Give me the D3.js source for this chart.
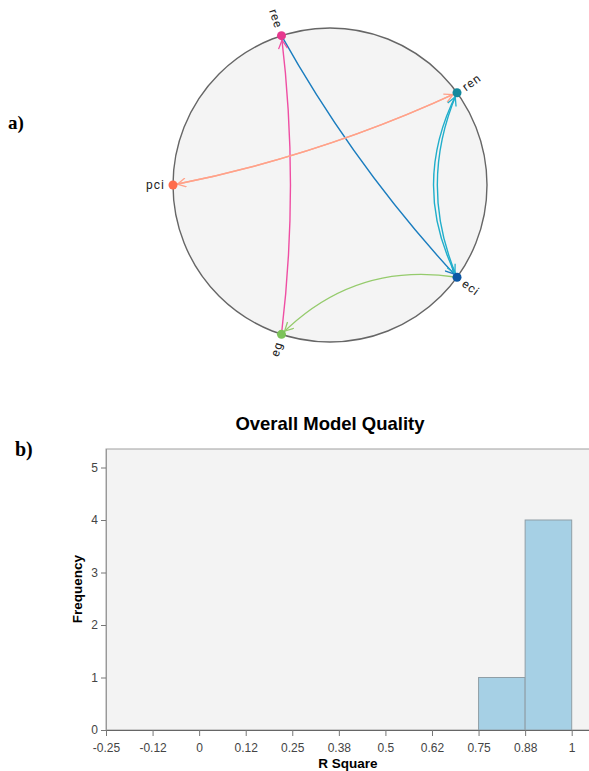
<!DOCTYPE html>
<html>
<head>
<meta charset="utf-8">
<script src="https://cdn.jsdelivr.net/npm/d3@7"></script>
<style>
  body { margin: 0; background: #fff; }
  svg { display: block; }
</style>
</head>
<body>
<div id="chart"></div>
<script>
// ---- panel a: directed links between indicators
const nodeNames = ["ree", "ren", "eci", "eg", "pci"]
const linkSource = ["ree", "eg", "eci", "pci", "ren", "ren", "eci"]
const linkTarget = ["eci", "ree", "eg", "ren", "pci", "eci", "ren"]
const linkHue = ["eci", "ree", "eg", "pci", "pci", "ren", "ren"]

// ---- panel b: histogram of R square
const binEdges = [-0.25, -0.125, 0, 0.125, 0.25, 0.375, 0.5, 0.625, 0.75, 0.875, 1]
const xTickLabels = ["-0.25", "-0.12", "0", "0.12", "0.25", "0.38", "0.5", "0.62", "0.75", "0.88", "1"]
const frequencies = [0, 0, 0, 0, 0, 0, 0, 0, 1, 4]
const yTicks = [0, 1, 2, 3, 4, 5]

const nodeColor = { ree: "#e6398f", ren: "#13899d", eci: "#0b57a4", eg: "#7cc35a", pci: "#ff6c4c" }
const linkColor = { ree: "#ef4ea3", ren: "#20aecb", eci: "#1a7dbf", eg: "#95cb6c", pci: "#ffa28a" }

const W = 589, H = 771
const svg = d3.select("#chart").append("svg").attr("width", W).attr("height", H)

// panel letters
svg.append("text").attr("x", 8).attr("y", 129)
  .style("font-family", "'Liberation Serif', 'Times New Roman', serif")
  .style("font-weight", "bold").style("font-size", "19px").text("a)")
svg.append("text").attr("x", 15).attr("y", 456)
  .style("font-family", "'Liberation Serif', 'Times New Roman', serif")
  .style("font-weight", "bold").style("font-size", "20px").text("b)")

// ================= circle graph
const cx = 330, cy = 185, R = 157
const angle = d3.scalePoint().domain(nodeNames).range([0, 288])   // degrees, clockwise from top
const startAngle = -18
const deg = n => angle(n) + startAngle
const pos = n => {
  const a = deg(n) * Math.PI / 180
  return [cx + R * Math.sin(a), cy - R * Math.cos(a)]
}

const g = svg.append("g")
g.append("circle").attr("cx", cx).attr("cy", cy).attr("r", R)
  .attr("fill", "#f4f4f4").attr("stroke", "#666").attr("stroke-width", 1.4)

const links = linkSource.map((s, i) => ({ source: s, target: linkTarget[i], hue: linkHue[i] }))

// arrow markers, one per colour
const defs = svg.append("defs")
Object.keys(linkColor).forEach(k => {
  defs.append("marker")
    .attr("id", "arrow-" + k)
    .attr("viewBox", "-1 -5 11 10")
    .attr("refX", 13).attr("refY", 0)
    .attr("markerWidth", 11).attr("markerHeight", 10)
    .attr("markerUnits", "userSpaceOnUse")
    .attr("orient", "auto")
    .append("path")
    .attr("d", "M0,-4.5L8.5,0L0,4.5")
    .attr("fill", "none")
    .attr("stroke", linkColor[k])
    .attr("stroke-width", 1.3)
})

function linkPath(d) {
  const [x1, y1] = pos(d.source), [x2, y2] = pos(d.target)
  const mx = (x1 + x2) / 2, my = (y1 + y2) / 2
  // pull the control point toward the centre; on neighbouring nodes the
  // reverse link gets a little less pull so both curves stay visible
  const back = links.some(l => l.source === d.target && l.target === d.source)
  const neighbours = Math.abs(nodeNames.indexOf(d.source) - nodeNames.indexOf(d.target)) === 1
  let k = 0.37
  if (back && neighbours && nodeNames.indexOf(d.source) > nodeNames.indexOf(d.target)) k = 0.31
  const qx = mx + k * (cx - mx), qy = my + k * (cy - my)
  return `M${x1},${y1}Q${qx},${qy} ${x2},${y2}`
}

g.selectAll("path.link")
  .data(links)
  .enter().append("path")
  .attr("class", "link")
  .attr("d", linkPath)
  .attr("fill", "none")
  .attr("stroke", d => linkColor[d.hue])
  .attr("stroke-width", 1.4)
  .attr("marker-end", d => "url(#arrow-" + d.hue + ")")

g.selectAll("circle.node")
  .data(nodeNames)
  .enter().append("circle")
  .attr("class", "node")
  .attr("cx", d => pos(d)[0])
  .attr("cy", d => pos(d)[1])
  .attr("r", 4.5)
  .attr("fill", d => nodeColor[d])

g.selectAll("text.label")
  .data(nodeNames)
  .enter().append("text")
  .attr("class", "label")
  .attr("dy", "0.35em")
  .attr("transform", d => {
    const a = (deg(d) + 360) % 360
    return `translate(${cx},${cy}) rotate(${a - 90}) translate(${R + 8},0)` + (a > 180 ? " rotate(180)" : "")
  })
  .attr("text-anchor", d => ((deg(d) + 360) % 360 > 180 ? "end" : "start"))
  .style("font-family", "Roboto, 'Noto Sans', sans-serif")
  .style("font-size", "12px")
  .style("letter-spacing", "1px")
  .attr("fill", "#222")
  .text(d => d)

// ================= histogram
const plotLeft = 106, plotTop = 449, plotBottom = 730
const x = d3.scaleLinear().domain([-0.25, 1]).range([plotLeft, 571.7])
const y = d3.scaleLinear().domain([0, 5]).range([plotBottom, 467.5])

svg.append("text").attr("x", 330).attr("y", 430).attr("text-anchor", "middle")
  .style("font-family", "Arial, 'Liberation Sans', sans-serif")
  .style("font-weight", "bold").style("font-size", "18.5px").text("Overall Model Quality")

svg.append("rect")
  .attr("x", plotLeft).attr("y", plotTop)
  .attr("width", W + 5 - plotLeft).attr("height", plotBottom - plotTop)
  .attr("fill", "#f3f3f3").attr("stroke", "#a0a0a0").attr("stroke-width", 1)

const bins = frequencies.map((f, i) => ({ x0: binEdges[i], x1: binEdges[i + 1], n: f })).filter(b => b.n > 0)
svg.selectAll("rect.bar")
  .data(bins)
  .enter().append("rect")
  .attr("class", "bar")
  .attr("x", d => x(d.x0))
  .attr("y", d => y(d.n))
  .attr("width", d => x(d.x1) - x(d.x0))
  .attr("height", d => y(0) - y(d.n))
  .attr("fill", "#a6d0e5")
  .attr("stroke", "#8f9ea6")
  .attr("stroke-width", 1)

const xAxis = d3.axisBottom(x)
  .tickValues(binEdges)
  .tickFormat((d, i) => xTickLabels[i])
  .tickSize(6).tickSizeOuter(0)
const gx = svg.append("g").attr("transform", `translate(0,${plotBottom})`).call(xAxis)
gx.select(".domain").attr("d", `M${plotLeft},0.5H${W + 5}`).attr("stroke", "#666")

const yAxis = d3.axisLeft(y).tickValues(yTicks).tickFormat(d3.format("d")).tickSize(5).tickSizeOuter(0)
const gy = svg.append("g").attr("transform", `translate(${plotLeft},0)`).call(yAxis)
gy.select(".domain").attr("d", `M0.5,${plotBottom}V${plotTop}`).attr("stroke", "#999")

svg.selectAll(".tick line").attr("stroke", "#777")
svg.selectAll(".tick text")
  .style("font-family", "Arial, 'Liberation Sans', sans-serif")
  .style("font-size", "12px")
  .attr("fill", "#444")
gx.selectAll(".tick text").attr("dy", "1.05em")

svg.append("text")
  .attr("transform", `translate(82,589) rotate(-90)`)
  .attr("text-anchor", "middle")
  .style("font-family", "Arial, 'Liberation Sans', sans-serif")
  .style("font-weight", "bold").style("font-size", "13.5px").text("Frequency")

svg.append("text").attr("x", 348).attr("y", 768).attr("text-anchor", "middle")
  .style("font-family", "Arial, 'Liberation Sans', sans-serif")
  .style("font-weight", "bold").style("font-size", "13.5px").text("R Square")
</script>
</body>
</html>
